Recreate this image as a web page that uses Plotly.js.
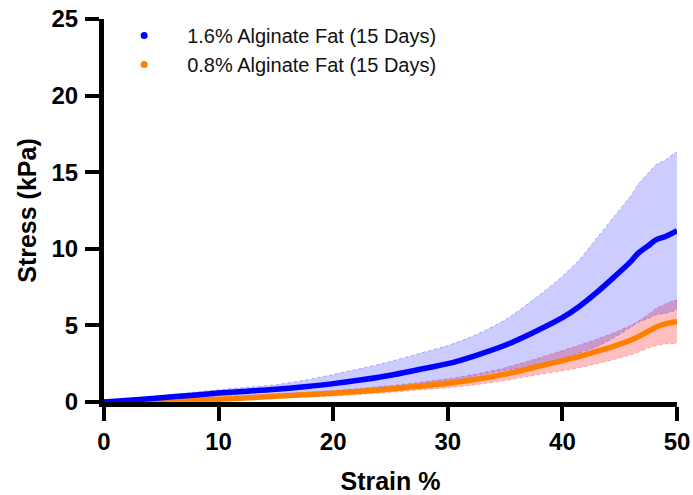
<!DOCTYPE html>
<html>
<head>
<meta charset="utf-8">
<script src="https://cdn.plot.ly/plotly-3.0.1.min.js"></script>
<style>html,body{margin:0;padding:0;background:#fff;}#chart{width:693px;height:495px;}</style>
</head>
<body>
<div id="chart"></div>
<script>
// Strain (%) sample positions
const strain = [0, 2.5, 5, 7.5, 10, 12.5, 15, 17.5, 20, 22.5, 25, 27.5, 30, 32.5, 35, 37.5, 40, 41.5, 43, 44.5, 46, 46.6, 47.5, 48.2, 49, 50];
// 1.6% Alginate Fat (15 Days): mean stress and SD (kPa)
const mean16 = [0, 0.13, 0.28, 0.43, 0.58, 0.7, 0.83, 1.0, 1.2, 1.45, 1.75, 2.12, 2.5, 3.05, 3.7, 4.55, 5.5, 6.25, 7.15, 8.15, 9.2, 9.7, 10.2, 10.6, 10.8, 11.18];
const sd16   = [0, 0.08, 0.14, 0.18, 0.22, 0.26, 0.3, 0.42, 0.6, 0.75, 0.9, 1.05, 1.18, 1.35, 1.65, 2.15, 2.7, 3.05, 3.55, 3.95, 4.3, 4.5, 4.75, 4.9, 5.0, 5.1];
// 0.8% Alginate Fat (15 Days): mean stress and SD (kPa)
const mean08 = [0, 0.04, 0.09, 0.13, 0.18, 0.27, 0.37, 0.47, 0.57, 0.7, 0.85, 1.03, 1.22, 1.48, 1.82, 2.25, 2.7, 2.98, 3.3, 3.65, 4.05, 4.25, 4.62, 4.9, 5.1, 5.24];
const sd08   = [0, 0.02, 0.03, 0.05, 0.08, 0.1, 0.12, 0.15, 0.17, 0.2, 0.22, 0.25, 0.29, 0.35, 0.42, 0.52, 0.66, 0.74, 0.8, 0.87, 0.96, 1.0, 1.1, 1.22, 1.3, 1.38];

const seriesNames = ['1.6% Alginate Fat (15 Days)', '0.8% Alginate Fat (15 Days)'];
const xTicks = [0, 10, 20, 30, 40, 50];
const yTicks = [0, 5, 10, 15, 20, 25];

const BLUE = 'rgb(0,0,255)';
const ORANGE = 'rgb(255,128,0)';

function band(mean, sd, fill, edge) {
  const up = mean.map((m, i) => m + sd[i]);
  const lo = mean.map((m, i) => Math.max(0, m - sd[i]));
  const xs = strain.concat(strain.slice().reverse());
  const ys = up.concat(lo.slice().reverse());
  return {
    x: xs, y: ys, type: 'scatter', mode: 'lines', fill: 'toself',
    fillcolor: fill, line: {color: edge, width: 1, dash: 'dot', shape: 'spline', smoothing: 0.6},
    hoverinfo: 'skip', showlegend: false
  };
}

const traces = [
  band(mean08, sd08, 'rgba(255,0,0,0.25)', 'rgba(220,80,80,0.4)'),
  band(mean16, sd16, 'rgba(0,0,255,0.2)', 'rgba(70,70,230,0.4)'),
  {x: strain, y: mean08, type: 'scatter', mode: 'lines', line: {color: ORANGE, width: 5.5, shape: 'spline'}, showlegend: false},
  {x: strain, y: mean16, type: 'scatter', mode: 'lines', line: {color: BLUE, width: 5.5, shape: 'spline'}, showlegend: false},
  {x: [null], y: [null], type: 'scatter', mode: 'markers', name: seriesNames[0], marker: {color: BLUE, size: 7}},
  {x: [null], y: [null], type: 'scatter', mode: 'markers', name: seriesNames[1], marker: {color: ORANGE, size: 7}}
];

const tickFont = {family: 'Liberation Sans, Arial, sans-serif', size: 24, weight: 'bold', color: '#000'};
const titleFont = {family: 'Liberation Sans, Arial, sans-serif', size: 25, weight: 'bold', color: '#000'};

const layout = {
  width: 693, height: 495,
  margin: {l: 104, r: 16, t: 19, b: 93},
  paper_bgcolor: '#fff', plot_bgcolor: '#fff',
  showlegend: true,
  legend: {
    x: -0.005, y: 1.008, xanchor: 'left', yanchor: 'top',
    font: {family: 'Liberation Sans, Arial, sans-serif', size: 20, color: '#111'},
    bgcolor: 'rgba(0,0,0,0)', borderwidth: 0, itemwidth: 76
  },
  xaxis: {
    range: [0, 50], tickvals: xTicks, ticktext: xTicks.map(String),
    showgrid: false, zeroline: false, showline: true, linecolor: '#000', linewidth: 5,
    ticks: 'outside', ticklen: 14, tickwidth: 4, tickcolor: '#000',
    tickfont: tickFont, ticklabelstandoff: 0,
    title: {text: 'Strain %', font: titleFont, standoff: 24}
  },
  yaxis: {
    range: [0, 25], tickvals: yTicks, ticktext: yTicks.map(String),
    showgrid: false, zeroline: false, showline: true, linecolor: '#000', linewidth: 5,
    ticks: 'outside', ticklen: 14, tickwidth: 4, tickcolor: '#000',
    tickfont: tickFont, ticklabelstandoff: 2,
    title: {text: 'Stress (kPa)', font: titleFont, standoff: 9}
  }
};

Plotly.newPlot('chart', traces, layout, {displayModeBar: false, staticPlot: true});
</script>
</body>
</html>
